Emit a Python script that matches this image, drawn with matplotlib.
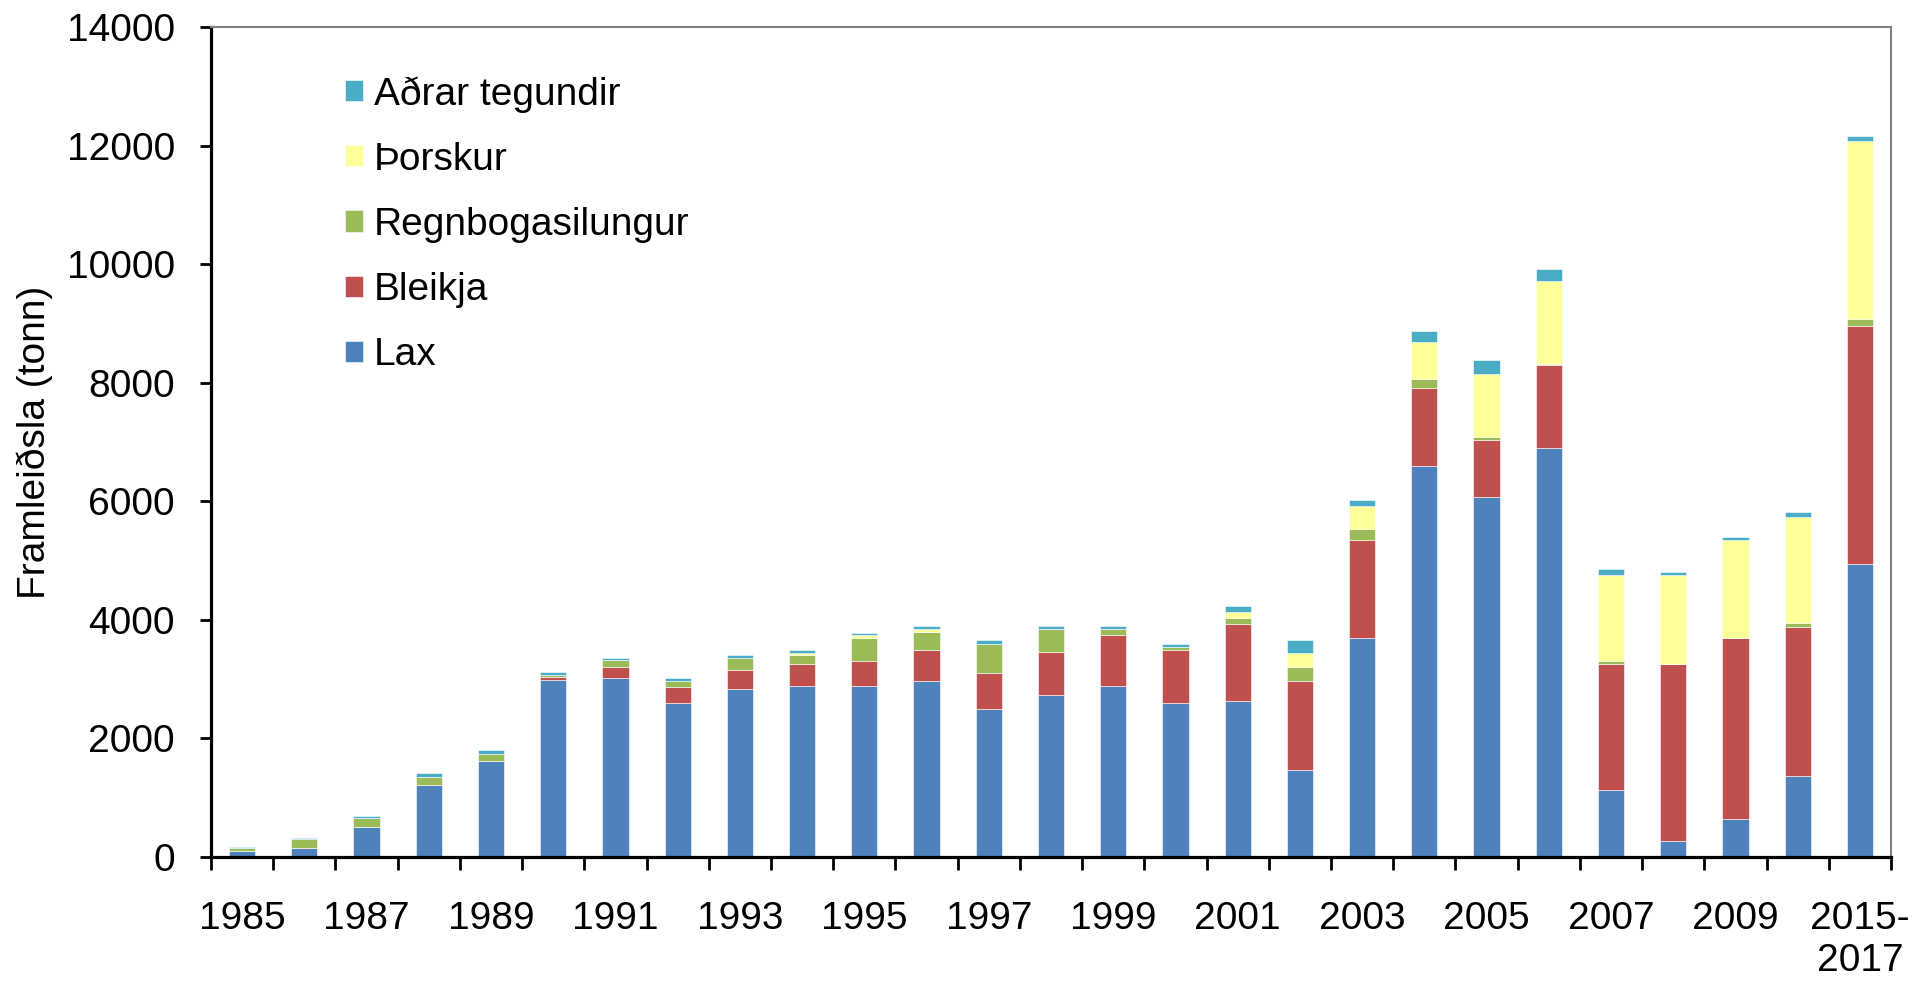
import numpy as np
import matplotlib.pyplot as plt

# --- Gögn (tonn) ---
ar = ['1985', '1986', '1987', '1988', '1989', '1990', '1991', '1992', '1993',
      '1994', '1995', '1996', '1997', '1998', '1999', '2000', '2001', '2002',
      '2003', '2004', '2005', '2006', '2007', '2008', '2009', '2010', '2015-\n2017']

lax = [105, 157, 500, 1220, 1615, 2980, 3015, 2590, 2830, 2880, 2880, 2970, 2490,
       2730, 2880, 2590, 2630, 1465, 3700, 6600, 6070, 6900, 1125, 265, 645, 1360, 4950]
bleikja = [0, 0, 0, 0, 0, 50, 190, 285, 330, 380, 425, 530, 620, 720, 870, 905,
           1300, 1510, 1645, 1315, 965, 1400, 2125, 2985, 3050, 2525, 4015]
regnbogasilungur = [50, 146, 150, 130, 130, 45, 115, 95, 205, 140, 390, 300, 490, 390,
                    95, 45, 105, 235, 190, 140, 50, 10, 50, 0, 0, 55, 105]
thorskur = [0, 0, 0, 0, 0, 0, 0, 0, 0, 45, 45, 45, 0, 0, 0, 0, 95, 235, 390, 635,
            1070, 1400, 1455, 1505, 1655, 1795, 3000]
adrar = [10, 10, 50, 70, 55, 45, 40, 45, 40, 55, 45, 45, 55, 55, 45, 55, 105, 210,
         105, 190, 235, 200, 100, 55, 40, 85, 95]

flokkar = ['Lax', 'Bleikja', 'Regnbogasilungur', 'Þorskur', 'Aðrar tegundir']
litir = ['#4F81BD', '#C0504D', '#9BBB59', '#FFFF99', '#4BACC6']

plt.rcParams['font.family'] = ['Liberation Sans', 'DejaVu Sans']
fs = 28

fig = plt.figure(figsize=(19.19, 9.81), dpi=100)
W, H = 1919, 981
ax = fig.add_axes([211 / W, 1 - 857 / H, (1891 - 211) / W, (857 - 27) / H])

x = np.arange(len(ar))
botn = np.zeros(len(ar))
for gildi, nafn, litur in zip([lax, bleikja, regnbogasilungur, thorskur, adrar], flokkar, litir):
    ax.bar(x, gildi, width=0.42, bottom=botn, color=litur, label=nafn,
           edgecolor='white', linewidth=0.4)
    botn += np.array(gildi)

ax.set_xlim(-0.5, len(ar) - 0.5)
ax.set_ylim(0, 14000)
ax.set_yticks(np.arange(0, 14001, 2000))
ax.set_xticks(x[::2])
ax.set_xticklabels([ar[i] for i in x[::2]])
ax.set_xticks(np.arange(-0.5, len(ar), 1), minor=True)

ax.tick_params(axis='y', which='major', direction='out', length=8, width=2,
               labelsize=fs, pad=18)
ax.tick_params(axis='x', which='major', length=0, labelsize=fs, pad=32)
ax.tick_params(axis='x', which='minor', direction='out', length=9, width=2)

for s in ['left', 'bottom']:
    ax.spines[s].set_linewidth(2.3)
    ax.spines[s].set_color('black')
for s in ['top', 'right']:
    ax.spines[s].set_linewidth(1.5)
    ax.spines[s].set_color('#808080')

ax.set_ylabel('Framleiðsla (tonn)', fontsize=fs, labelpad=10)

h, l = ax.get_legend_handles_labels()
ax.legend(h[::-1], l[::-1], loc='upper left', bbox_to_anchor=(345 / W, 1 - 76 / H),
          bbox_transform=fig.transFigure, frameon=False, fontsize=fs,
          borderpad=0, borderaxespad=0, handlelength=0.46, handleheight=0.46,
          handletextpad=0.28, labelspacing=0.75)

fig.savefig('out.png', dpi=100)
